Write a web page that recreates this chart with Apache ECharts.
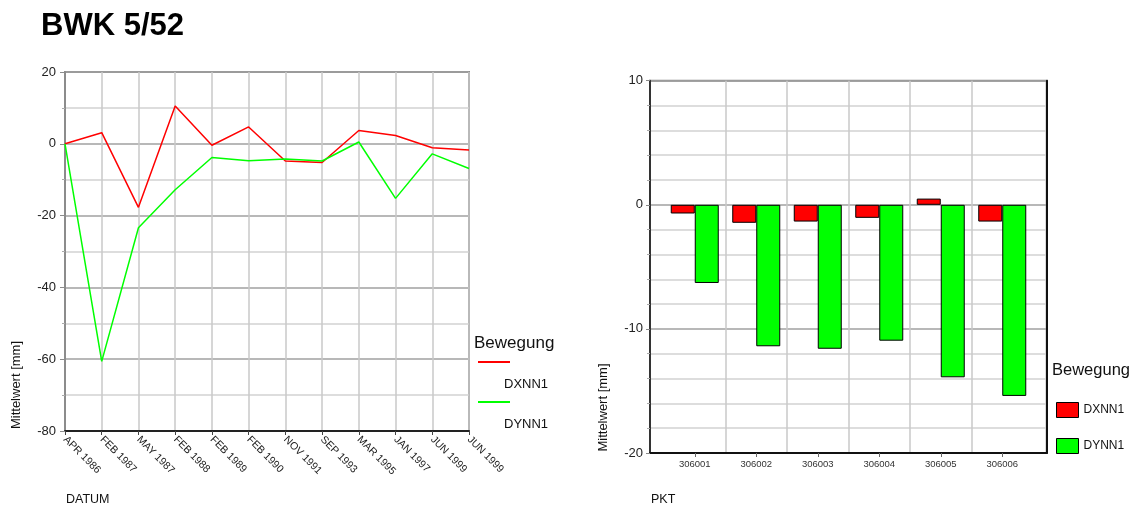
<!DOCTYPE html>
<html>
<head>
<meta charset="utf-8">
<script src="https://cdn.jsdelivr.net/npm/echarts@6/dist/echarts.min.js"></script>
<style>
html,body{margin:0;padding:0;background:#fff;}
#chart{width:1131px;height:507px;}
</style>
</head>
<body>
<div id="chart"></div>
<script>
// ---- data ----
const datumCategories = ['APR 1986','FEB 1987','MAY 1987','FEB 1988','FEB 1989','FEB 1990','NOV 1991','SEP 1993','MAR 1995','JAN 1997','JUN 1999','JUN 1999'];
const lineDXNN1 = [0, 3.1, -17.7, 10.5, -0.4, 4.7, -4.8, -5.2, 3.7, 2.3, -1.1, -1.7];
const lineDYNN1 = [0, -60.6, -23.4, -12.8, -3.8, -4.7, -4.2, -4.8, 0.5, -15.2, -2.8, -6.9];

const pktCategories = ['306001','306002','306003','306004','306005','306006'];
const barDXNN1 = [-0.7, -1.45, -1.35, -1.05, 0.5, -1.35];
const barDYNN1 = [-6.3, -11.4, -11.6, -10.95, -13.9, -15.4];

const seriesNames = ['DXNN1','DYNN1'];
const leftYTicks = {min: -80, max: 20, interval: 20};
const rightYTicks = {min: -20, max: 10, interval: 10};

// ---- chart ----
const FONT = 'Liberation Sans, Arial, sans-serif';
const RED = '#ff0000', GREEN = '#00ff00';
const chart = echarts.init(document.getElementById('chart'), null, {renderer: 'canvas'});

const option = {
  animation: false,
  backgroundColor: '#fff',
  textStyle: {fontFamily: FONT},
  title: [
    {text: 'BWK 5/52', left: 41, top: 11, padding: 0, textStyle: {fontSize: 31, fontWeight: 'bold', color: '#000', fontFamily: FONT}},
    {text: 'Bewegung', left: 474, top: 335, padding: 0, textStyle: {fontSize: 17, fontWeight: 'normal', color: '#111', fontFamily: FONT}},
    {text: 'Bewegung', left: 1052, top: 362, padding: 0, textStyle: {fontSize: 16.5, fontWeight: 'normal', color: '#111', fontFamily: FONT}},
    {text: 'DATUM', left: 66, top: 493, padding: 0, textStyle: {fontSize: 12.5, fontWeight: 'normal', color: '#111', fontFamily: FONT}},
    {text: 'PKT', left: 651, top: 493, padding: 0, textStyle: {fontSize: 12.5, fontWeight: 'normal', color: '#111', fontFamily: FONT}}
  ],
  legend: [
    {
      data: seriesNames, orient: 'vertical', left: 478, top: 361, padding: 0,
      itemWidth: 32, itemHeight: 46, itemGap: -6,
      icon: 'path://M0,0H32V2H0Z M0,45.95H0.05V46H0Z',
      itemStyle: {borderWidth: 0},
      textStyle: {fontSize: 13, color: '#111', fontFamily: FONT, padding: [0, 0, 0, -11]}
    },
    {
      data: seriesNames, orient: 'vertical', left: 1056, top: 402, padding: 0,
      itemWidth: 22, itemHeight: 15, itemGap: 20, icon: 'rect',
      itemStyle: {borderColor: '#000', borderWidth: 1},
      textStyle: {fontSize: 12, color: '#111', fontFamily: FONT}
    }
  ],
  grid: [
    {left: 65, right: 662, top: 72, bottom: 76, show: true, borderColor: '#8c8c8c', borderWidth: 2, backgroundColor: 'transparent'},
    {left: 664, right: 98, top: 80.7, bottom: 54},
    {left: 650, right: 84.3, top: 80.7, bottom: 54, show: true, borderColor: '#8c8c8c', borderWidth: 2, backgroundColor: 'transparent'}
  ],
  xAxis: [
    {
      gridIndex: 0, type: 'category', data: datumCategories, boundaryGap: false,
      axisLine: {show: true, onZero: false, lineStyle: {color: '#222', width: 2}},
      axisTick: {show: true, length: 4, lineStyle: {color: '#444'}},
      axisLabel: {rotate: -45, fontSize: 10.5, color: '#1a1a1a', margin: 7, interval: 0, fontFamily: FONT},
      splitLine: {show: true, interval: 0, lineStyle: {color: '#c8c8c8', width: 1.5}}
    },
    {
      gridIndex: 1, type: 'category', data: pktCategories, boundaryGap: true,
      axisLine: {show: false, onZero: false},
      axisTick: {show: true, alignWithLabel: true, length: 4, lineStyle: {color: '#666'}},
      axisLabel: {fontSize: 9.5, color: '#333', margin: 6, fontFamily: FONT},
      splitLine: {show: true, showMinLine: false, showMaxLine: false, lineStyle: {color: '#c8c8c8', width: 1.5}}
    },
    {
      gridIndex: 2, type: 'value', min: 0, max: 1,
      axisLine: {show: true, onZero: false, lineStyle: {color: '#111', width: 2}},
      axisTick: {show: false}, axisLabel: {show: false}, splitLine: {show: false}
    }
  ],
  yAxis: [
    {
      gridIndex: 0, type: 'value', min: leftYTicks.min, max: leftYTicks.max, interval: leftYTicks.interval,
      axisLine: {show: true, onZero: false, lineStyle: {color: '#8c8c8c', width: 2}},
      axisTick: {show: true, length: 5, lineStyle: {color: '#8c8c8c'}},
      minorTick: {show: true, splitNumber: 2, length: 3, lineStyle: {color: '#aaa'}},
      axisLabel: {fontSize: 13, color: '#222', margin: 9, fontFamily: FONT},
      splitLine: {show: true, lineStyle: {color: '#a0a0a0', width: 1.5}},
      minorSplitLine: {show: true, lineStyle: {color: '#d2d2d2', width: 1.5}}
    },
    {
      gridIndex: 1, type: 'value', min: rightYTicks.min, max: rightYTicks.max, interval: rightYTicks.interval,
      show: false
    },
    {
      gridIndex: 2, type: 'value', min: rightYTicks.min, max: rightYTicks.max, interval: rightYTicks.interval,
      axisLine: {show: true, onZero: false, lineStyle: {color: '#333', width: 2}},
      axisTick: {show: true, length: 4, lineStyle: {color: '#888'}},
      minorTick: {show: true, splitNumber: 5, length: 3, lineStyle: {color: '#aaa'}},
      axisLabel: {fontSize: 13, color: '#222', margin: 7, fontFamily: FONT},
      splitLine: {show: true, lineStyle: {color: '#a0a0a0', width: 1.5}},
      minorSplitLine: {show: true, lineStyle: {color: '#d2d2d2', width: 1.5}}
    },
    {
      gridIndex: 2, type: 'value', position: 'right', min: rightYTicks.min, max: rightYTicks.max,
      axisLine: {show: true, onZero: false, lineStyle: {color: '#111', width: 2}},
      axisTick: {show: false}, axisLabel: {show: false}, splitLine: {show: false}
    }
  ],
  series: [
    {
      name: seriesNames[0], type: 'line', xAxisIndex: 0, yAxisIndex: 0, data: lineDXNN1,
      symbol: 'none', color: RED, lineStyle: {color: RED, width: 1.5}, z: 5
    },
    {
      name: seriesNames[1], type: 'line', xAxisIndex: 0, yAxisIndex: 0, data: lineDYNN1,
      symbol: 'none', color: GREEN, lineStyle: {color: GREEN, width: 1.5}, z: 5
    },
    {
      name: seriesNames[0], type: 'bar', xAxisIndex: 1, yAxisIndex: 1, data: barDXNN1,
      barWidth: 24, barGap: '0%', color: RED,
      itemStyle: {color: RED, borderColor: '#000', borderWidth: 1}, z: 5
    },
    {
      name: seriesNames[1], type: 'bar', xAxisIndex: 1, yAxisIndex: 1, data: barDYNN1,
      barWidth: 24, barGap: '0%', color: GREEN,
      itemStyle: {color: GREEN, borderColor: '#000', borderWidth: 1}, z: 5
    }
  ],
  graphic: [
    {type: 'text', x: 16.5, y: 385, rotation: Math.PI / 2,
     style: {text: 'Mittelwert [mm]', align: 'center', verticalAlign: 'middle', fontSize: 13, fontFamily: FONT, fill: '#111'}},
    {type: 'text', x: 603, y: 407.5, rotation: Math.PI / 2,
     style: {text: 'Mittelwert [mm]', align: 'center', verticalAlign: 'middle', fontSize: 13, fontFamily: FONT, fill: '#111'}}
  ]
};
chart.setOption(option);
</script>
</body>
</html>
